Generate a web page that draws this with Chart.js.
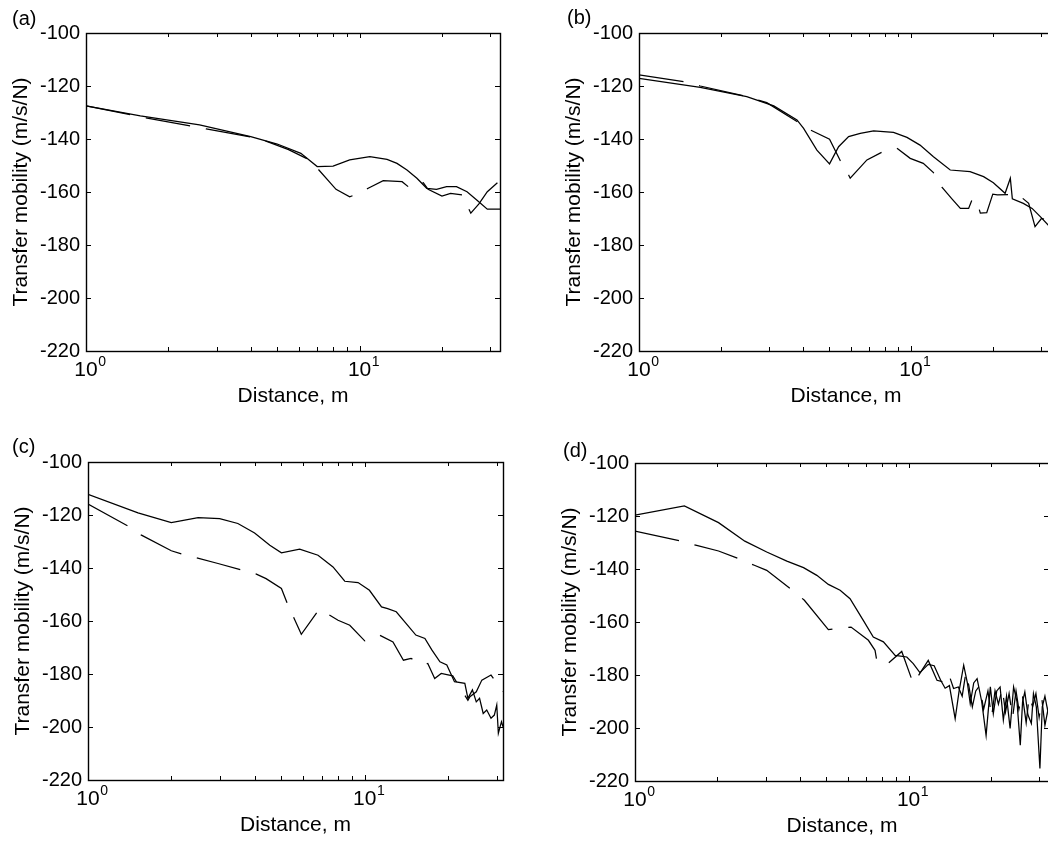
<!DOCTYPE html>
<html><head><meta charset="utf-8">
<script src="https://cdn.jsdelivr.net/npm/chart.js@4.4.1/dist/chart.umd.min.js"></script>
<style>
html,body{margin:0;padding:0;background:#fff;}
body{width:1048px;height:841px;overflow:hidden;position:relative;}
.panel{position:absolute;}
.tag{position:absolute;font-family:"Liberation Sans",Arial,sans-serif;font-size:20px;line-height:24px;color:#000;white-space:nowrap;}
</style></head><body>
<div class="panel" id="pa"><canvas id="ca"></canvas></div>
<div class="panel" id="pb"><canvas id="cb"></canvas></div>
<div class="panel" id="pc"><canvas id="cc"></canvas></div>
<div class="panel" id="pd"><canvas id="cd"></canvas></div>
<script>
// ---------- text / ticks ----------
const panelTags = ['(a)', '(b)', '(c)', '(d)'];
const xTitle = 'Distance, m';
const yTitle = 'Transfer mobility (m/s/N)';
const yTickValues = [-220, -200, -180, -160, -140, -120, -100];
const xTickPositions = [1, 2, 3, 4, 5, 6, 7, 8, 9, 10, 20, 30];
const xTickValues = [1, 10];
const xTickBase = ['10', '10'];
const xTickExp = ['0', '1'];

// ---------- panel (a) ----------
const aSolidX = [1, 1.58, 2.6, 4.0, 5.0, 6.1, 7.0, 8.0, 9.2, 10.9, 12.6, 13.7, 14.9, 16.2, 17.6, 19.1, 20.8, 22.6, 24.7, 26.8, 29.3, 32.6];
const aSolidY = [-127.5, -131.3, -134.7, -139.1, -141.9, -145.4, -150.4, -150.2, -147.9, -146.7, -147.7, -149.2, -151.7, -154.8, -158.6, -159, -158, -158, -159.9, -163, -166.5, -166.5];
const aDashX = [1, 1.65, 2.41, 2.75, 4.1, 4.6, 5.5, 6.5, 7.1, 8.2, 9.2, 9.6, 10.75, 12.2, 14.3, 15.3, 17.1, 17.8, 20.0, 21.5, 23.7, 25.5, 27.3, 29.3, 31.9];
const aDashY = [-127.5, -132.0, -135.1, -136.2, -139.4, -141.0, -144.0, -147.7, -151.7, -159, -161.8, -161.1, -158.6, -155.7, -156.1, -158.6, -156.5, -159, -161.5, -160.5, -161.1, -168, -164.5, -159.9, -156.5];

// ---------- panel (b) ----------
const bSolidX = [1, 1.68, 2.49, 3.13, 3.81, 4.03, 4.51, 5.02, 5.42, 5.9, 6.51, 7.29, 8.63, 9.67, 10.8, 12.1, 13.95, 16.5, 18.5, 20.1, 22.2, 23.2, 23.6, 25.9, 27.9, 29.9, 32.0, 33.3];
const bSolidY = [-117.1, -120.5, -124.0, -127.5, -132.8, -136.0, -144.2, -149.4, -142.9, -139.1, -137.9, -136.9, -137.5, -139.4, -142.3, -146.7, -151.7, -152.3, -154.2, -156.5, -160.5, -154.8, -162.6, -164.3, -166.2, -169.3, -172.5, -173];
const bDashX = [1, 1.46, 1.68, 2.49, 2.95, 3.81, 4.27, 5.02, 5.5, 5.9, 5.98, 6.89, 7.82, 8.88, 9.94, 11.1, 12.1, 13.0, 14.15, 15.2, 16.3, 16.8, 17.4, 18.0, 19.0, 20.0, 20.8, 23.7, 24.9, 27.1, 28.6, 30.2, 33.3];
const bDashY = [-115.8, -118.4, -120, -124, -126.3, -133.4, -136.6, -140.1, -148.2, -153.6, -154.8, -147.9, -145, -143.5, -147.3, -149.2, -152.7, -158.2, -162.6, -166.2, -166.2, -162.8, -162.8, -168, -167.8, -160.8, -161.1, -160.9, -161.1, -164.3, -173.1, -170, -171];

// ---------- panel (c) ----------
const cSolidX = [1, 1.516, 2.0, 2.5, 2.99, 3.48, 4.0, 4.54, 5.0, 5.82, 6.78, 7.68, 8.47, 9.46, 10.4, 11.5, 12.1, 13.0, 14.1, 15.3, 16.5, 17.5, 18.7, 19.8, 21.1, 23.0, 23.6, 24.5, 25.3, 26.0, 26.8, 27.6, 28.6, 29.4, 30.0, 30.4, 31.2, 31.6];
const cSolidY = [-112.2, -119.2, -122.9, -121.0, -121.4, -123.2, -126.8, -131.4, -134.3, -132.9, -135.2, -139.6, -145, -145.5, -148.4, -154.7, -155.3, -156.5, -160.9, -165.3, -166.6, -171, -175.4, -176.6, -182.9, -183.5, -189.2, -186, -190.5, -189.2, -194.9, -193.6, -196.7, -195.5, -191.7, -202.4, -198, -199.9];
const cDashX = [1, 1.395, 1.56, 2.0, 2.2, 2.46, 2.95, 3.61, 4.06, 4.4, 5.0, 5.28, 5.58, 5.9, 6.84, 7.36, 8.01, 8.83, 10.0, 11.3, 12.65, 13.8, 14.7, 16.2, 16.9, 17.9, 18.9, 20.2, 20.8, 23.6, 24.0, 25.3, 26.5, 28.6, 30.7, 31.6];
const cDashY = [-115.9, -124.2, -127.6, -133.5, -134.8, -136.1, -138.3, -140.8, -142.3, -144, -147.7, -154, -159.4, -165, -155.6, -157.4, -159.7, -161.6, -167.5, -165.3, -167.9, -174.8, -174.1, -176.6, -176, -181.7, -179.8, -180.4, -180.7, -189.9, -188.6, -186.7, -182.3, -180.4, -184.8, -186.7];

// ---------- panel (d) ----------
const dSolidX = [1, 1.515, 2.02, 2.52, 3.03, 3.59, 4.13, 4.62, 5.09, 5.62, 6.11, 6.83, 7.43, 8.09, 8.93, 9.85, 10.4, 11.0, 11.8, 12.4, 13.1, 13.6, 14.1, 14.8, 15.3, 15.9, 16.4, 16.8, 17.3, 17.8, 18.5, 19.2, 19.9, 20.4, 21.0, 21.6, 22.2, 22.8, 23.5, 24.2, 24.9, 25.6, 26.1, 26.6, 27.3, 28.1, 28.6, 29.3, 30.2, 30.8, 31.5, 32.6];
const dSolidY = [-119.7, -116.2, -122.5, -129.5, -133.6, -137, -139.5, -142.4, -145.8, -148, -151.2, -159.4, -165.7, -167.5, -172.6, -173.2, -175.7, -179.1, -176, -176.5, -182, -185, -184, -196.5, -186, -176.3, -183, -190.8, -183, -181.4, -190, -202.8, -184.5, -194.6, -186, -184.5, -197, -188, -200.2, -184.5, -190, -206.5, -190, -186.4, -195, -198.3, -187, -192, -215.3, -192, -188, -196];
const dDashX = [1, 1.46, 1.68, 2.02, 2.42, 2.73, 3.03, 3.74, 4.16, 5.09, 5.39, 6.16, 7.13, 7.54, 7.65, 8.27, 9.44, 10.4, 11.8, 12.7, 13.4, 14.0, 14.6, 15.2, 15.7, 16.2, 16.6, 17.1, 17.6, 18.2, 18.8, 19.5, 20.1, 20.7, 21.3, 22.0, 22.6, 23.3, 24.0, 24.7, 25.3, 26.0, 26.9, 27.6, 28.4, 29.2, 30.0, 30.7, 31.5, 32.6];
const dDashY = [-125.7, -129.4, -131.1, -133.2, -136.3, -138.6, -140.5, -147.8, -151.8, -162.9, -162.5, -161.9, -166.9, -170.7, -174.5, -176.3, -171.1, -183.2, -174.5, -182, -182.6, -179.5, -185.1, -184.5, -188, -179, -184, -192, -186, -184, -193, -186, -196, -186, -191, -185, -194, -187, -196, -186, -193, -187, -198, -188, -192, -187, -196, -189, -199, -191];

// ---------- layout (pixels) ----------
const LEFT_GUTTER = 86, TOP_GUTTER = 33, RIGHT_GUTTER = 12, BOTTOM_GUTTER = 64;
const FONT = '"Liberation Sans", Arial, sans-serif';
const X_TICK_SIZE = 21, EXP_SIZE = 14;

function pts(xs, ys) { return xs.map((x, i) => ({x: x, y: ys[i]})); }

const framePlugin = {
  id: 'matlabFrame',
  afterDatasetsDraw(chart) {
    const {ctx, chartArea: a, scales} = chart;
    ctx.save();
    ctx.strokeStyle = '#000';
    ctx.lineWidth = 1;
    ctx.beginPath();
    scales.y.ticks.forEach(t => {
      const py = Math.round(scales.y.getPixelForValue(t.value)) + 0.5;
      ctx.moveTo(a.left, py); ctx.lineTo(a.left + 5, py);
      ctx.moveTo(a.right, py); ctx.lineTo(a.right - 5, py);
    });
    scales.x.ticks.forEach(t => {
      const px = Math.round(scales.x.getPixelForValue(t.value)) + 0.5;
      const len = xTickValues.includes(t.value) ? 5 : 4;
      ctx.moveTo(px, a.bottom); ctx.lineTo(px, a.bottom - len);
      ctx.moveTo(px, a.top); ctx.lineTo(px, a.top + len);
    });
    ctx.stroke();
    ctx.lineWidth = 1.4;
    ctx.strokeRect(Math.round(a.left) + 0.5, Math.round(a.top) + 0.5, Math.round(a.right - a.left), Math.round(a.bottom - a.top));
    // exponents of the decade labels
    ctx.fillStyle = '#000';
    ctx.textBaseline = 'alphabetic';
    ctx.textAlign = 'left';
    xTickValues.forEach((v, i) => {
      const px = scales.x.getPixelForValue(v);
      ctx.font = X_TICK_SIZE + 'px ' + FONT;
      const w = ctx.measureText(xTickBase[i]).width;
      ctx.font = EXP_SIZE + 'px ' + FONT;
      ctx.fillText(xTickExp[i], px + w / 2 + 0.5, a.bottom + 15);
    });
    ctx.restore();
  }
};

function makePanel(idx, canvasId, divId, geom, solidX, solidY, dashX, dashY) {
  const W = LEFT_GUTTER + geom.w + RIGHT_GUTTER;
  const H = TOP_GUTTER + geom.h + BOTTOM_GUTTER;
  const div = document.getElementById(divId);
  div.style.left = (geom.left - LEFT_GUTTER) + 'px';
  div.style.top = (geom.top - TOP_GUTTER) + 'px';
  div.style.width = W + 'px';
  div.style.height = H + 'px';
  const cv = document.getElementById(canvasId);
  cv.width = W; cv.height = H;
  cv.style.width = W + 'px'; cv.style.height = H + 'px';

  const tag = document.createElement('div');
  tag.className = 'tag';
  tag.textContent = panelTags[idx];
  tag.style.left = geom.tagLeft + 'px';
  tag.style.top = geom.tagTop + 'px';
  document.body.appendChild(tag);

  new Chart(cv, {
    type: 'line',
    data: {
      datasets: [
        {data: pts(solidX, solidY), borderColor: '#000', borderWidth: 1.25, pointRadius: 0, tension: 0, fill: false},
        {data: pts(dashX, dashY), borderColor: '#000', borderWidth: 1.25, pointRadius: 0, tension: 0, fill: false, borderDash: [45, 16]}
      ]
    },
    options: {
      responsive: false, animation: false, devicePixelRatio: 1,
      layout: {padding: {top: TOP_GUTTER, right: RIGHT_GUTTER, left: 0, bottom: 0}},
      plugins: {legend: {display: false}, tooltip: {enabled: false}},
      scales: {
        x: {
          type: 'logarithmic', min: 1, max: geom.xmax,
          afterBuildTicks: s => { s.ticks = xTickPositions.filter(v => v <= geom.xmax).map(v => ({value: v})); },
          afterFit: s => { s.height = BOTTOM_GUTTER; },
          grid: {display: false, drawTicks: false}, border: {display: false},
          ticks: {
            autoSkip: false, maxRotation: 0, minRotation: 0, padding: 7, color: '#000',
            font: {family: FONT, size: X_TICK_SIZE},
            callback: v => { const i = xTickValues.indexOf(v); return i >= 0 ? xTickBase[i] : ''; }
          },
          title: {display: true, text: xTitle, color: '#000', font: {family: FONT, size: 21}, padding: {top: 0, bottom: 6}}
        },
        y: {
          type: 'linear', min: -220, max: -100,
          afterBuildTicks: s => { s.ticks = yTickValues.map(v => ({value: v})); },
          afterFit: s => { s.width = LEFT_GUTTER; },
          grid: {display: false, drawTicks: false}, border: {display: false},
          ticks: {padding: 6, color: '#000', font: {family: FONT, size: 20}},
          title: {display: true, text: yTitle, color: '#000', font: {family: FONT, size: 21}, padding: {top: 9, bottom: 0}}
        }
      }
    },
    plugins: [framePlugin]
  });
}

makePanel(0, 'ca', 'pa', {left: 86, top: 33, w: 414, h: 318, xmax: 32.6, tagLeft: 12, tagTop: 6}, aSolidX, aSolidY, aDashX, aDashY);
makePanel(1, 'cb', 'pb', {left: 639, top: 33, w: 414, h: 318, xmax: 33.3, tagLeft: 567, tagTop: 5}, bSolidX, bSolidY, bDashX, bDashY);
makePanel(2, 'cc', 'pc', {left: 88, top: 462, w: 415, h: 318, xmax: 31.6, tagLeft: 12, tagTop: 434}, cSolidX, cSolidY, cDashX, cDashY);
makePanel(3, 'cd', 'pd', {left: 635, top: 463, w: 414, h: 318, xmax: 32.6, tagLeft: 563, tagTop: 438}, dSolidX, dSolidY, dDashX, dDashY);
</script>
</body></html>
